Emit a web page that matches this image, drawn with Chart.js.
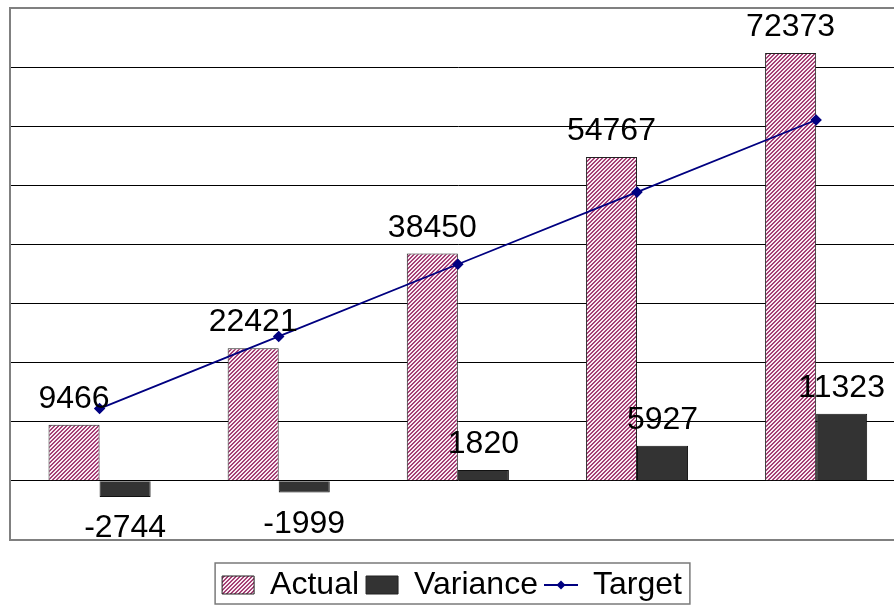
<!DOCTYPE html>
<html>
<head>
<meta charset="utf-8">
<script src="https://cdn.jsdelivr.net/npm/chart.js@4.4.0/dist/chart.umd.min.js"></script>
<style>
  body { margin: 0; overflow: hidden; background: #fff; }
  #wrap { width: 894px; height: 607px; overflow: hidden; }
</style>
</head>
<body>
<div id="wrap"><canvas id="ShowChart" width="912" height="607"></canvas></div>
<script>
var Categories = ["1", "2", "3", "4", "5"]
var Actual = [9466, 22421, 38450, 54767, 72373]
var Variance = [-2744, -1999, 1820, 5927, 11323]
var Target = [12210, 24420, 36630, 48840, 61050]
var Y_Min = -10000, Y_Max = 80000, Y_Step = 10000

var FONT = '"Liberation Sans", Arial, sans-serif'

// hatched fill for the Actual bars
function Make_Hatch(){
  var c = document.createElement("canvas")
  c.width = 4; c.height = 4
  var g = c.getContext("2d")
  g.fillStyle = "#f9ebf2"
  g.fillRect(0, 0, 4, 4)
  g.fillStyle = "#a53f75"
  for (var i = 0; i < 4; i++){
    g.fillRect(i, 3 - i, 1, 1)
    g.fillRect(i, (4 - i) % 4, 1, 1)
  }
  return g.createPattern(c, "repeat")
}

// legend symbol for the Target line
function Make_Line_Symbol(){
  var c = document.createElement("canvas")
  c.width = 34; c.height = 12
  var g = c.getContext("2d")
  g.strokeStyle = "#000080"
  g.lineWidth = 2
  g.beginPath(); g.moveTo(0, 6); g.lineTo(34, 6); g.stroke()
  g.fillStyle = "#000080"
  g.beginPath(); g.moveTo(17, 1.5); g.lineTo(21.5, 6); g.lineTo(17, 10.5); g.lineTo(12.5, 6); g.closePath(); g.fill()
  return c
}

var Hatch = Make_Hatch()
var Line_Symbol = Make_Line_Symbol()

var Value_Labels = {
  id: "valueLabels",
  afterDatasetsDraw(chart){
    var ctx = chart.ctx
    ctx.save()
    ctx.font = "32px " + FONT
    ctx.fillStyle = "#000"
    ctx.textAlign = "center"
    ctx.textBaseline = "alphabetic"
    for (var d = 0; d < 2; d++){
      var meta = chart.getDatasetMeta(d)
      var vals = chart.data.datasets[d].data
      for (var i = 0; i < meta.data.length; i++){
        var bar = meta.data[i]
        if (vals[i] >= 0){
          ctx.fillText(String(vals[i]), bar.x, bar.y - 17)
        }else{
          ctx.fillText(String(vals[i]), bar.x, bar.y + 40)
        }
      }
    }
    ctx.restore()
  }
}

// legend sits a little left of the canvas centre, with a thin frame round it
var Legend_Box = {
  id: "legendBox",
  afterLayout(chart){
    chart.legend.left -= 9
    chart.legend.right -= 9
    chart.legend.top += 4
    chart.legend.bottom += 4
  },
  afterDraw(chart){
    var boxes = chart.legend.legendHitBoxes
    if (!boxes || !boxes.length) return
    var l = Infinity, r = -Infinity, t = Infinity, b = -Infinity
    for (var i = 0; i < boxes.length; i++){
      l = Math.min(l, boxes[i].left)
      r = Math.max(r, boxes[i].left + boxes[i].width)
      t = Math.min(t, boxes[i].top)
      b = Math.max(b, boxes[i].top + boxes[i].height)
    }
    var ctx = chart.ctx
    ctx.save()
    ctx.strokeStyle = "#7a7a7a"
    ctx.lineWidth = 1.5
    ctx.strokeRect(l - 7, t - 6, r - l + 15, b - t + 9)
    ctx.restore()
  }
}

var ctx = document.getElementById("ShowChart").getContext("2d")
var ChartObject = new Chart(ctx, {
  type: "bar",
  data: {
    labels: Categories,
    datasets: [
      {
        label: "Actual",
        data: Actual,
        backgroundColor: Hatch,
        borderColor: "#222",
        borderWidth: 1,
        categoryPercentage: 0.57,
        barPercentage: 1,
        order: 1
      },
      {
        label: "Variance",
        data: Variance,
        backgroundColor: "#333333",
        borderColor: "#111",
        borderWidth: 1,
        categoryPercentage: 0.57,
        barPercentage: 1,
        order: 1
      },
      {
        type: "line",
        label: "Target",
        data: Target,
        borderColor: "#000080",
        backgroundColor: "#000080",
        borderWidth: 1.8,
        pointStyle: "rectRot",
        pointRadius: 4.5,
        pointBackgroundColor: "#000080",
        pointBorderColor: "#000080",
        order: 0
      }
    ]
  },
  options: {
    responsive: false,
    animation: false,
    layout: { padding: { left: 10, top: 8, right: 0, bottom: 0 } },
    plugins: {
      tooltip: { enabled: false },
      legend: {
        position: "bottom",
        title: { display: true, text: "", font: { size: 1 }, padding: { top: 0, bottom: 17 } },
        labels: {
          color: "#000",
          font: { size: 32, family: FONT },
          boxWidth: 32,
          boxHeight: 18,
          padding: 7,
          usePointStyle: true,
          pointStyleWidth: 32,
          sort: function(a, b){ return a.datasetIndex - b.datasetIndex },
          generateLabels: function(chart){
            var items = Chart.defaults.plugins.legend.labels.generateLabels(chart)
            items.forEach(function(it){
              if (it.text == "Target"){
                it.pointStyle = Line_Symbol
              }else{
                it.pointStyle = "rect"
                it.lineWidth = 1
                it.strokeStyle = "#222"
              }
            })
            return items
          }
        }
      }
    },
    scales: {
      x: { display: false },
      y: {
        min: Y_Min,
        max: Y_Max,
        ticks: { display: false, stepSize: Y_Step },
        border: { display: true, color: "#808080", width: 2 },
        grid: {
          drawTicks: false,
          color: function(c){
            var v = c.tick ? c.tick.value : 0
            return (v == Y_Min || v == Y_Max) ? "#808080" : "#000"
          },
          lineWidth: function(c){
            var v = c.tick ? c.tick.value : 0
            return (v == Y_Min || v == Y_Max) ? 2 : 1
          }
        }
      }
    }
  },
  plugins: [Value_Labels, Legend_Box]
})
</script>
</body>
</html>
